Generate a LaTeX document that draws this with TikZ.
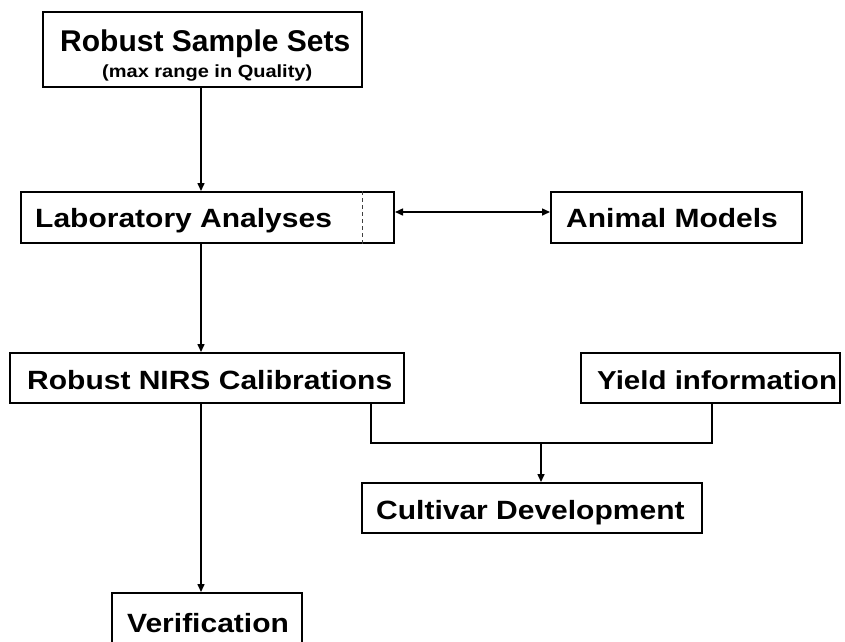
\documentclass[tikz,border=0pt]{standalone}
\usepackage{fontspec}
\usepackage{graphicx}
\setmainfont{Liberation Sans}
\usetikzlibrary{arrows.meta}
\newcommand{\sqz}[1]{\scalebox{1}[0.88]{#1}}
\tikzset{
  boxnode/.style={draw, line width=2pt, rectangle, inner sep=0pt},
  lbl/.style={inner sep=0pt, anchor=base west, font=\bfseries\fontsize{30pt}{36pt}\selectfont},
  sublbl/.style={inner sep=0pt, anchor=base west, font=\bfseries\fontsize{20pt}{24pt}\selectfont},
  conn/.style={line width=1.5pt},
  arr/.style={line width=1.5pt, -{Triangle[length=8pt,width=7pt]}},
  darr/.style={line width=1.5pt, {Triangle[length=8pt,width=7pt]}-{Triangle[length=8pt,width=7pt]}}
}
\begin{document}
\begin{tikzpicture}[x=1pt,y=-1pt]
\clip (0,0) rectangle (845,641);
\fill[white] (0,0) rectangle (845,641);
% boxes
\node[boxnode, minimum width=319pt, minimum height=75pt] (rss) at (202.5,49.5) {};
\node[boxnode, minimum width=373pt, minimum height=51pt] (lab) at (207.5,217.5) {};
\node[boxnode, minimum width=251pt, minimum height=51pt] (animal) at (676.5,217.5) {};
\node[boxnode, minimum width=394pt, minimum height=50pt] (nirs) at (207,378) {};
\node[boxnode, minimum width=259pt, minimum height=50pt] (yield) at (710.5,378) {};
\node[boxnode, minimum width=340pt, minimum height=50pt] (cult) at (532,508) {};
\node[boxnode, minimum width=190pt, minimum height=52pt] (ver) at (207,619) {};
% labels
\node[lbl] (t1) at (60,51) {Robust Sample Sets};
\node[sublbl] (t1b) at (102,77) {\sqz{(max range in Quality)}};
\node[lbl] (t2) at (35,227) {\sqz{Laboratory Analyses}};
\node[lbl] (t3) at (566,227) {\sqz{Animal Models}};
\node[lbl] (t4) at (27,389) {\sqz{Robust NIRS Calibrations}};
\node[lbl, font=\bfseries\fontsize{29.5pt}{35pt}\selectfont] (t5) at (597,389) {\sqz{Yield information}};
\node[lbl] (t6) at (376,519) {\sqz{Cultivar Development}};
\node[lbl] (t7) at (127,632) {\sqz{Verification}};
% helper coordinates
\coordinate (colA) at (201,0);
\coordinate (colB) at (371,0);
\coordinate (colC) at (712,0);
\coordinate (colD) at (541,0);
\coordinate (colE) at (362,0);
\coordinate (rowA) at (0,212);
\coordinate (join) at (0,443);
% dashed divider
\draw[line width=0.9pt, dash pattern=on 4pt off 3pt, black!75] (colE |- lab.north) -- (colE |- lab.south);
% connectors
\draw[arr] (colA |- rss.south) -- (colA |- lab.north);
\draw[arr] (colA |- lab.south) -- (colA |- nirs.north);
\draw[arr] (colA |- nirs.south) -- (colA |- ver.north);
\draw[darr] (lab.east |- rowA) -- (animal.west |- rowA);
\draw[conn] (colB |- nirs.south) -- (colB |- join) -- (colC |- join) -- (colC |- yield.south);
\draw[arr] (colD |- join) -- (colD |- cult.north);
\end{tikzpicture}
\end{document}
